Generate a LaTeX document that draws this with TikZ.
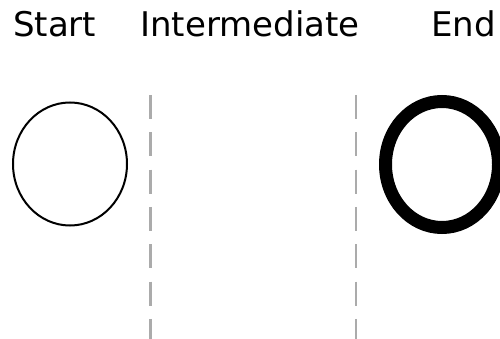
\documentclass[tikz,border=0pt]{standalone}
\usepackage{fontspec}
\setmainfont{DejaVu Sans}
\begin{document}
\begin{tikzpicture}[x=1pt,y=-1pt,
    label/.style={anchor=base west,inner sep=0pt,font=\fontsize{34}{40}\selectfont},
    divider/.style={draw=black!33,line width=2.5pt,dash pattern=on 24pt off 13.3pt}]
    \useasboundingbox (0,0) rectangle (500,339);
    \node[label] (start) at (13,37) {Start};
    \node[label] (mid) at (140,37) {Intermediate};
    \node[label] (end) at (431,37) {End};
    \draw[divider] (150.5,95) -- (150.5,339);
    \draw[divider] (356,95) -- (356,339);
    \draw[line width=2pt] (70,164) ellipse [x radius=57, y radius=61.5];
    \draw[line width=13pt] (442,164.5) ellipse [x radius=56.5, y radius=63];
  \end{tikzpicture}
\end{document}
